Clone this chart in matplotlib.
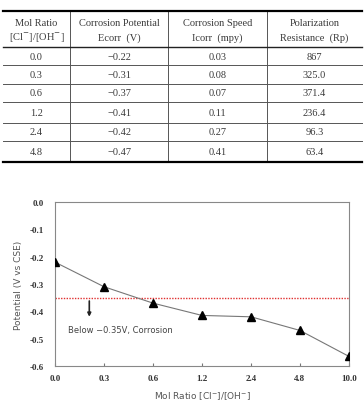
import numpy as np
import matplotlib.pyplot as plt

# --- table data ---
header = [["Mol Ratio", "[Cl$^{-}$]/[OH$^{-}$]"],
          ["Corrosion Potential", "Ecorr  (V)"],
          ["Corrosion Speed", "Icorr  (mpy)"],
          ["Polarization", "Resistance  (Rp)"]]
mol_ratio = ["0.0", "0.3", "0.6", "1.2", "2.4", "4.8"]
ecorr = ["\u22120.22", "\u22120.31", "\u22120.37", "\u22120.41", "\u22120.42", "\u22120.47"]
icorr = ["0.03", "0.08", "0.07", "0.11", "0.27", "0.41"]
rp = ["867", "325.0", "371.4", "236.4", "96.3", "63.4"]

# --- chart data ---
x_labels = ["0.0", "0.3", "0.6", "1.2", "2.4", "4.8", "10.0"]
potential = [-0.22, -0.31, -0.37, -0.415, -0.42, -0.47, -0.565]
threshold = -0.35

W, H = 364, 402
fig = plt.figure(figsize=(W / 100, H / 100), dpi=100)

# table drawn in pixel coordinates
tab = fig.add_axes([0, 0, 1, 1])
tab.set_xlim(0, W)
tab.set_ylim(H, 0)
tab.axis("off")

serif = ["Liberation Serif", "DejaVu Serif"]
col_edges = [3, 70, 168, 267, 362]
row_edges = [12, 48, 66, 85, 103, 124, 142, 163]
centers = [(col_edges[i] + col_edges[i + 1]) / 2 for i in range(4)]

for xv in col_edges[1:-1]:
    tab.plot([xv, xv], [row_edges[0], row_edges[-1]], color="#555555", lw=0.7)
for yv in row_edges[2:-1]:
    tab.plot([col_edges[0], col_edges[-1]], [yv, yv], color="#555555", lw=0.7)
tab.plot([col_edges[0], col_edges[-1]], [row_edges[1], row_edges[1]], color="#222222", lw=1.0)
tab.plot([col_edges[0], col_edges[-1]], [row_edges[0], row_edges[0]], color="black", lw=1.6)
tab.plot([col_edges[0], col_edges[-1]], [row_edges[-1], row_edges[-1]], color="black", lw=1.6)

for c, (l1, l2) in enumerate(header):
    tab.text(centers[c], 23, l1, ha="center", va="center", fontsize=7.5,
             family=serif, color="#3a3a3a")
    tab.text(centers[c], 38, l2, ha="center", va="center", fontsize=7.5,
             family=serif, color="#3a3a3a")

cols = [mol_ratio, ecorr, icorr, rp]
for r in range(len(mol_ratio)):
    yc = (row_edges[r + 1] + row_edges[r + 2]) / 2
    for c in range(4):
        tab.text(centers[c], yc, cols[c][r], ha="center", va="center",
                 fontsize=7.5, family=serif, color="#3a3a3a")

# chart
ax = fig.add_axes([55 / W, 1 - 367 / H, (349 - 55) / W, (367 - 203) / H])
xi = np.arange(len(x_labels))
ax.plot(xi, potential, color="#777777", lw=0.8, zorder=2)
ax.plot(xi, potential, ls="none", marker="^", color="black", ms=5.5, zorder=3)
ax.axhline(threshold, color="#e03030", ls=(0, (1, 1)), lw=1.0, zorder=1)

ax.annotate("", xy=(0.7, -0.43), xytext=(0.7, -0.352),
            arrowprops=dict(arrowstyle="-|>", color="#222222", lw=1.2,
                            mutation_scale=5))
ax.text(0.27, -0.465, "Below \u22120.35V, Corrosion", fontsize=6,
        color="#444444", va="center", family="DejaVu Sans")

ax.set_xlim(0, len(x_labels) - 1)
ax.set_ylim(-0.6, 0.0)
ax.set_xticks(xi)
ax.set_xticklabels(x_labels)
ax.set_yticks(np.arange(-0.6, 0.01, 0.1))
ax.set_yticklabels(["-0.6", "-0.5", "-0.4", "-0.3", "-0.2", "-0.1", "0.0"])
for lab in ax.get_xticklabels() + ax.get_yticklabels():
    lab.set_family(serif)
    lab.set_fontweight("bold")
    lab.set_fontsize(6.5)
    lab.set_color("#333333")
ax.tick_params(axis="x", direction="in", length=2, color="#777777", pad=6)
ax.tick_params(axis="y", length=0, pad=8)
for s in ax.spines.values():
    s.set_color("#888888")
    s.set_linewidth(0.8)

ax.set_xlabel("Mol Ratio [Cl$^{-}$]/[OH$^{-}$]", fontsize=6.5, color="#555555", labelpad=5)
ax.set_ylabel("Potential (V vs CSE)", fontsize=6.5, color="#555555", labelpad=5)

fig.savefig("out.png", dpi=100)
